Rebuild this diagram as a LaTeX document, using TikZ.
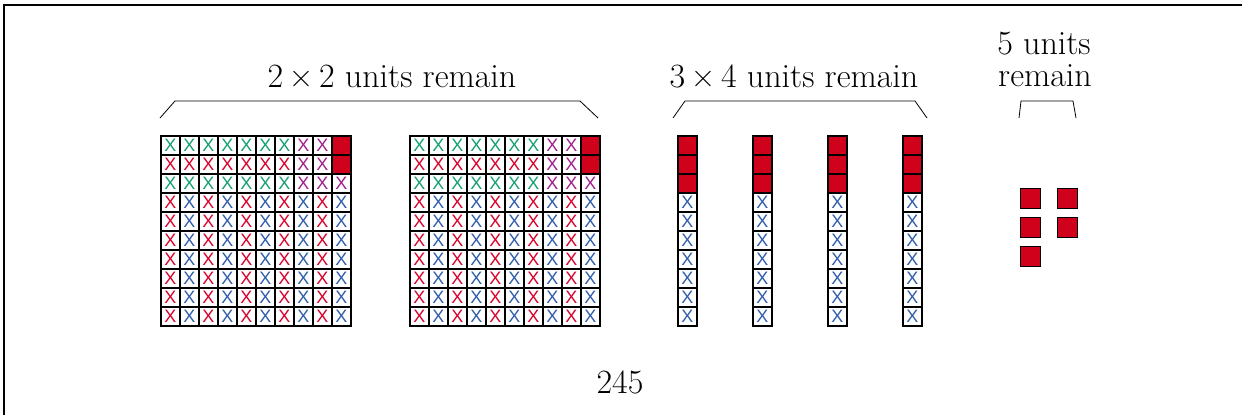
\documentclass[tikz,border=0pt]{standalone}
\usepackage{fontspec}
\newfontfamily\xfont{Liberation Sans}
\definecolor{cg}{HTML}{14A06E}
\definecolor{cr}{HTML}{D8002A}
\definecolor{cp}{HTML}{A01E8C}
\definecolor{cb}{HTML}{2E5CAA}
\definecolor{cfill}{HTML}{D0021B}
\tikzset{
  cell/.style={draw=black, line width=1.6pt, minimum size=19pt, inner sep=0pt, anchor=north west, font=\xfont\fontsize{18}{18}\selectfont},
  full/.style={cell, fill=cfill},
  unit/.style={draw=black, line width=1pt, fill=cfill, minimum size=20pt, inner sep=0pt, anchor=north west},
  lbl/.style={font=\fontsize{34}{38}\selectfont, inner sep=0pt},
  brace/.style={draw=black, line width=0.8pt},
}
\begin{document}
\begin{tikzpicture}[x=1pt,y=-1pt]
\useasboundingbox (0,0) rectangle (1242,415);
\coordinate (fbl) at (4,415);
\coordinate (ftl) at (4,5);
\coordinate (ftr) at (1242,5);
\draw[line width=2pt] (fbl) -- (ftl) -- (ftr);
% big grids
\foreach \g/\ox in {1/160, 2/409} {
  \foreach \c in {1,...,10} {
    \foreach \r in {1,...,10} {
      \pgfmathsetmacro{\xx}{\ox+(\c-1)*19}
      \pgfmathsetmacro{\yy}{135+(\r-1)*19}
      \ifnum\r=1
        \ifnum\c<8 \node[cell,text=cg] (g\g-\r-\c) at (\xx,\yy) {X};
        \else\ifnum\c<10 \node[cell,text=cp] (g\g-\r-\c) at (\xx,\yy) {X};
        \else \node[full] (g\g-\r-\c) at (\xx,\yy) {};\fi\fi
      \else\ifnum\r=2
        \ifnum\c<8 \node[cell,text=cr] (g\g-\r-\c) at (\xx,\yy) {X};
        \else\ifnum\c<10 \node[cell,text=cp] (g\g-\r-\c) at (\xx,\yy) {X};
        \else \node[full] (g\g-\r-\c) at (\xx,\yy) {};\fi\fi
      \else\ifnum\r=3
        \ifnum\c<8 \node[cell,text=cg] (g\g-\r-\c) at (\xx,\yy) {X};
        \else \node[cell,text=cp] (g\g-\r-\c) at (\xx,\yy) {X};\fi
      \else
        \ifodd\c \node[cell,text=cr] (g\g-\r-\c) at (\xx,\yy) {X};
        \else \node[cell,text=cb] (g\g-\r-\c) at (\xx,\yy) {X};\fi
      \fi\fi\fi
    }
  }
}
% bars
\foreach \b/\ox in {1/677, 2/752, 3/827, 4/902} {
  \foreach \r in {1,...,10} {
    \pgfmathsetmacro{\yy}{135+(\r-1)*19}
    \ifnum\r<4 \node[full] (bar\b-\r) at (\ox,\yy) {};
    \else \node[cell,text=cb] (bar\b-\r) at (\ox,\yy) {X};\fi
  }
}
% units
\node[unit] (u1) at (1020,188) {};
\node[unit] (u2) at (1057,188) {};
\node[unit] (u3) at (1020,217) {};
\node[unit] (u4) at (1057,217) {};
\node[unit] (u5) at (1020,246) {};
% braces
\coordinate (b1a) at (160,118); \coordinate (b1b) at (175,101);
\coordinate (b1c) at (580,101); \coordinate (b1d) at (598,118);
\draw[brace] (b1a) -- (b1b) -- (b1c) -- (b1d);
\coordinate (b2a) at (673,118); \coordinate (b2b) at (685,101);
\coordinate (b2c) at (915,101); \coordinate (b2d) at (927,118);
\draw[brace] (b2a) -- (b2b) -- (b2c) -- (b2d);
\coordinate (b3a) at (1019,118); \coordinate (b3b) at (1021,101);
\coordinate (b3c) at (1073,101); \coordinate (b3d) at (1076,118);
\draw[brace] (b3a) -- (b3b) -- (b3c) -- (b3d);
% labels
\node[lbl] (t1) at (392,76) {2\,×\,2 units remain};
\node[lbl] (t2) at (794,76) {3\,×\,4 units remain};
\node[lbl] (t3a) at (1044,44) {5 units};
\node[lbl] (t3b) at (1045,76) {remain};
\node[lbl] (t4) at (620,382) {245};
\end{tikzpicture}
\end{document}
